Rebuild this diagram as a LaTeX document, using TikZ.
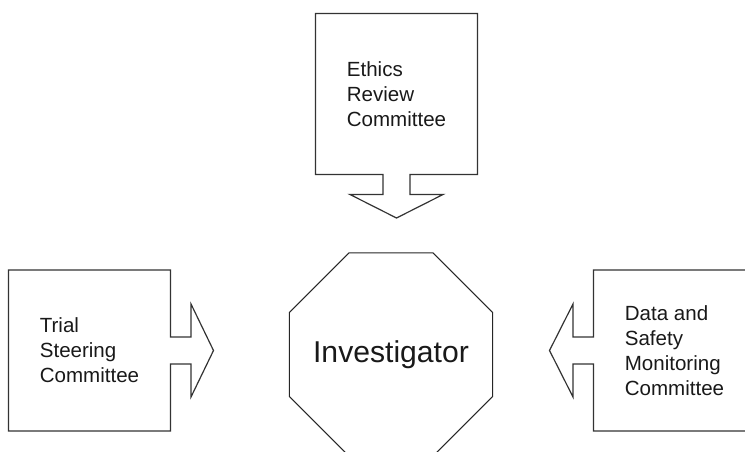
\documentclass[tikz,border=0pt]{standalone}
\usepackage{fontspec}
\setmainfont{Liberation Sans}
\usetikzlibrary{shapes.geometric}

\tikzset{
  committee/.style={rectangle, inner sep=0pt, outer sep=0pt,
    minimum width=121.5pt, minimum height=120.75pt, align=left,
    font=\fontsize{15.4}{18.75}\selectfont, text=black!90},
  outline/.style={draw=black!80, line width=0.9pt, line join=miter},
  octagon/.style={regular polygon, regular polygon sides=8,
    minimum size=165pt, inner sep=0pt, outer sep=0pt,
    draw=black!85, line width=0.8pt},
  investtext/.style={inner sep=0pt, font=\fontsize{22.6}{27}\selectfont, text=black!90}
}

\begin{document}
\begin{tikzpicture}[x=0.75pt, y=-0.75pt]
    \useasboundingbox (0,0) rectangle (745,452);
    \clip (0,0) rectangle (745,452);

    \node[committee] (ethics) at (396.5,94) {Ethics\\Review\\Committee};
    \node[committee] (trial) at (89.5,350.5) {Trial\\Steering\\Committee};
    \node[committee] (dsmc) at (674.5,350.5) {Data and\\Safety\\Monitoring\\Committee};
    \node[octagon, label={[investtext]center:Investigator}] (invest) at (391,354.5) {};

    % box outlines with their block arrows
    \draw[outline] (ethics.north west) -- (ethics.north east) -- (ethics.south east)
        -- ++(-67.5,0) -- ++(0,20) -- ++(33,0) -- ++(-46.5,23.5) -- ++(-46.5,-23.5)
        -- ++(33,0) -- ++(0,-20) -- (ethics.south west) -- cycle;
    \draw[outline] (trial.north west) -- (trial.north east)
        -- ++(0,67) -- ++(20.5,0) -- ++(0,-33) -- ++(22.5,46.5) -- ++(-22.5,46.5)
        -- ++(0,-33) -- ++(-20.5,0) -- (trial.south east) -- (trial.south west) -- cycle;
    \draw[outline] (dsmc.north east) -- (dsmc.north west)
        -- ++(0,67) -- ++(-20.5,0) -- ++(0,-33) -- ++(-23.5,46.5) -- ++(23.5,46.5)
        -- ++(0,-33) -- ++(20.5,0) -- (dsmc.south west) -- (dsmc.south east) -- cycle;
\end{tikzpicture}
\end{document}
